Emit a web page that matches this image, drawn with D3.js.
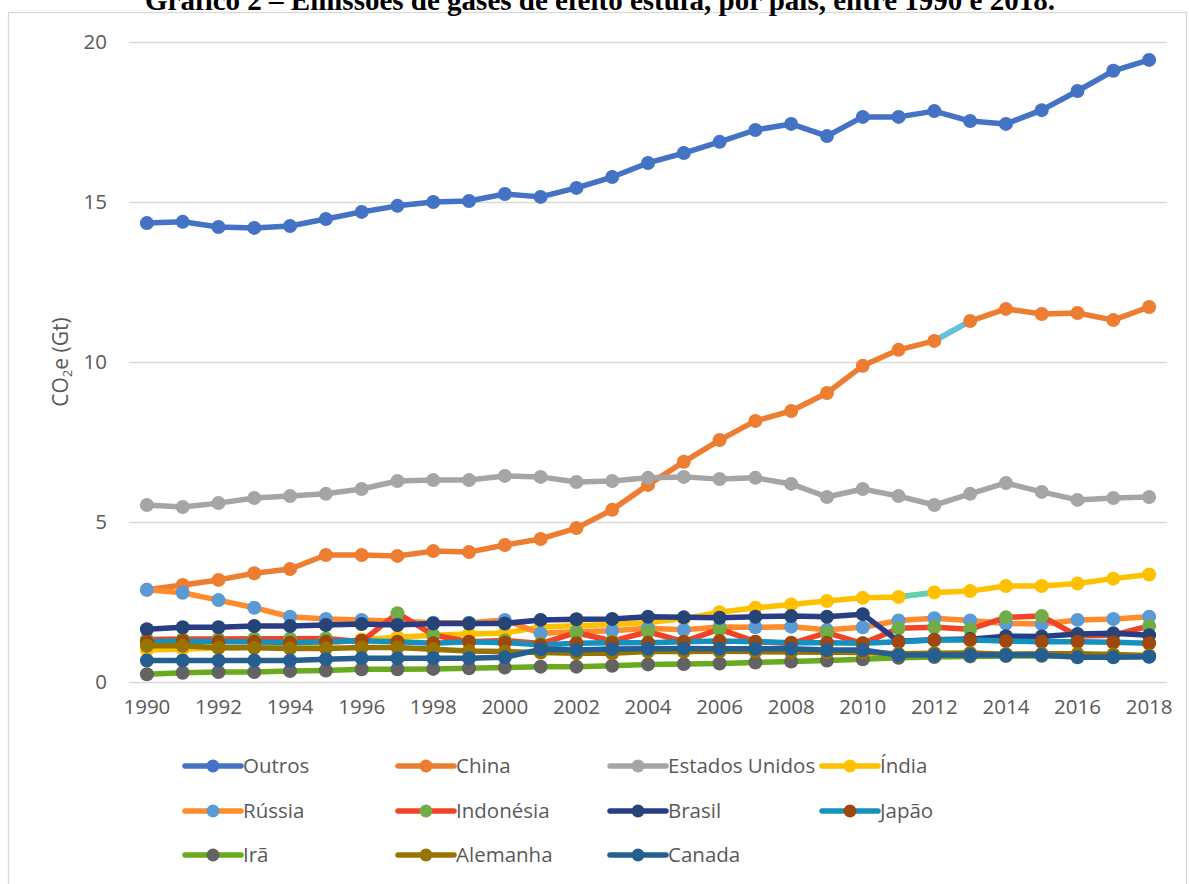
<!DOCTYPE html>
<html lang="pt">
<head>
<meta charset="utf-8">
<title>Emissões de gases de efeito estufa, por país, 1990–2018</title>
<script src="https://cdn.jsdelivr.net/npm/d3@7/dist/d3.min.js"></script>
<style>
  html, body { margin: 0; padding: 0; background: #ffffff; }
  svg { display: block; }
  text { font-family: "Open Sans", "Noto Sans", sans-serif; fill: #595959; }
</style>
</head>
<body>
<svg id="chart" width="1189" height="884"></svg>
<script>
// Anos (categorias do eixo X)
const years = [1990, 1991, 1992, 1993, 1994, 1995, 1996, 1997, 1998, 1999,
               2000, 2001, 2002, 2003, 2004, 2005, 2006, 2007, 2008, 2009,
               2010, 2011, 2012, 2013, 2014, 2015, 2016, 2017, 2018];
const xTickLabels = [1990, 1992, 1994, 1996, 1998, 2000, 2002, 2004, 2006, 2008, 2010, 2012, 2014, 2016, 2018];
const yTickLabels = [0, 5, 10, 15, 20];

// Emissões em Gt CO2e
const outros = [14.34, 14.38, 14.22, 14.19, 14.25, 14.47, 14.69, 14.88, 15.00, 15.03,
                15.25, 15.16, 15.44, 15.78, 16.22, 16.53, 16.88, 17.25, 17.44, 17.06,
                17.66, 17.66, 17.84, 17.53, 17.44, 17.87, 18.47, 19.10, 19.44];
const china = [2.88, 3.03, 3.19, 3.40, 3.53, 3.97, 3.97, 3.94, 4.09, 4.06,
               4.28, 4.47, 4.81, 5.38, 6.16, 6.88, 7.56, 8.16, 8.47, 9.03,
               9.88, 10.38, 10.66, 11.28, 11.66, 11.50, 11.53, 11.31, 11.72];
const estadosUnidos = [5.53, 5.47, 5.59, 5.75, 5.81, 5.88, 6.03, 6.28, 6.31, 6.31,
                       6.44, 6.41, 6.25, 6.28, 6.38, 6.41, 6.34, 6.38, 6.19, 5.78,
                       6.03, 5.81, 5.53, 5.88, 6.22, 5.94, 5.69, 5.75, 5.78];
const india = [1.00, 1.03, 1.06, 1.09, 1.14, 1.20, 1.33, 1.40, 1.46, 1.50,
               1.53, 1.72, 1.76, 1.80, 1.86, 1.98, 2.18, 2.32, 2.42, 2.53,
               2.63, 2.66, 2.80, 2.84, 3.00, 3.00, 3.08, 3.23, 3.36];
const russia = [2.88, 2.79, 2.56, 2.32, 2.04, 1.97, 1.94, 1.90, 1.85, 1.85,
                1.94, 1.52, 1.57, 1.60, 1.68, 1.63, 1.72, 1.71, 1.73, 1.63,
                1.71, 1.92, 1.99, 1.92, 1.83, 1.81, 1.94, 1.97, 2.04];
const indonesia = [1.33, 1.34, 1.34, 1.35, 1.35, 1.36, 1.26, 2.15, 1.47, 1.26,
                   1.30, 1.20, 1.54, 1.28, 1.57, 1.26, 1.65, 1.26, 1.20, 1.54,
                   1.20, 1.68, 1.71, 1.65, 2.02, 2.06, 1.44, 1.46, 1.75];
const brasil = [1.65, 1.71, 1.71, 1.75, 1.75, 1.78, 1.81, 1.78, 1.83, 1.83,
                1.83, 1.94, 1.96, 1.97, 2.04, 2.02, 2.01, 2.04, 2.06, 2.04,
                2.12, 1.27, 1.32, 1.34, 1.43, 1.42, 1.50, 1.52, 1.46];
const japao = [1.26, 1.28, 1.26, 1.26, 1.23, 1.26, 1.29, 1.26, 1.21, 1.26,
               1.23, 1.16, 1.21, 1.23, 1.23, 1.26, 1.28, 1.26, 1.23, 1.23,
               1.21, 1.26, 1.31, 1.31, 1.28, 1.26, 1.26, 1.24, 1.21];
const ira = [0.24, 0.29, 0.31, 0.31, 0.34, 0.36, 0.40, 0.40, 0.41, 0.43,
             0.45, 0.48, 0.48, 0.51, 0.55, 0.56, 0.58, 0.61, 0.64, 0.67,
             0.71, 0.76, 0.78, 0.80, 0.81, 0.82, 0.80, 0.80, 0.80];
const alemanha = [1.13, 1.13, 1.07, 1.07, 1.05, 1.05, 1.08, 1.08, 1.02, 0.97,
                  0.95, 0.92, 0.90, 0.90, 0.95, 0.95, 0.96, 0.95, 0.94, 0.93,
                  0.92, 0.88, 0.90, 0.91, 0.87, 0.88, 0.88, 0.86, 0.83];
const canada = [0.67, 0.67, 0.67, 0.67, 0.67, 0.71, 0.74, 0.74, 0.74, 0.74,
                0.77, 1.02, 1.00, 1.03, 1.04, 1.05, 1.04, 1.04, 1.04, 1.00,
                1.00, 0.84, 0.84, 0.84, 0.84, 0.84, 0.77, 0.77, 0.79];

const seriesNames = ["Outros", "China", "Estados Unidos", "Índia", "Rússia", "Indonésia",
                     "Brasil", "Japão", "Irã", "Alemanha", "Canada"];
const seriesValues = [outros, china, estadosUnidos, india, russia, indonesia,
                      brasil, japao, ira, alemanha, canada];

// Estilo de cada série: cor da linha e cor do marcador
const styles = {
  "Outros":         { line: "#4472C4", marker: "#4472C4" },
  "China":          { line: "#ED7D31", marker: "#ED7D31" },
  "Estados Unidos": { line: "#A5A5A5", marker: "#A5A5A5" },
  "Índia":          { line: "#FFC000", marker: "#FFC000" },
  "Rússia":         { line: "#FF8B2B", marker: "#5B9BD5" },
  "Indonésia":      { line: "#F14427", marker: "#70AD47" },
  "Brasil":         { line: "#283D85", marker: "#264478" },
  "Japão":          { line: "#1591C0", marker: "#9E480E" },
  "Irã":            { line: "#6AAA1E", marker: "#636363" },
  "Alemanha":       { line: "#997300", marker: "#997300" },
  "Canada":         { line: "#255E91", marker: "#255E91" }
};
// Trechos com formatação própria (segmento que começa no ano indicado)
const segmentOverrides = [
  { series: "China", fromYear: 2012, color: "#5EC3E4" },
  { series: "Índia", fromYear: 2011, color: "#5ED1B4" }
];

const svg = d3.select("#chart");

// Moldura da área do gráfico
svg.append("rect")
  .attr("x", 8.5).attr("y", 12.5)
  .attr("width", 1178).attr("height", 900)
  .attr("fill", "#ffffff").attr("stroke", "#D9D9D9").attr("stroke-width", 1.3);

// Título
svg.append("text")
  .attr("x", 600).attr("y", 10)
  .attr("text-anchor", "middle")
  .style("font-family", "'Liberation Serif', 'Times New Roman', serif")
  .style("font-weight", "bold")
  .style("font-size", "29px")
  .style("fill", "#000000")
  .text("Gráfico 2 – Emissões de gases de efeito estufa, por país, entre 1990 e 2018.");

// Escalas
const x = d3.scaleBand().domain(years).range([129, 1167]).padding(0);
const cx = yr => x(yr) + x.bandwidth() / 2;
const y = d3.scaleLinear().domain([0, 20]).range([682, 42]);

// Grade horizontal e rótulos do eixo Y
const yAxis = d3.axisLeft(y)
  .tickValues(yTickLabels)
  .tickSize(-(1167 - 129))
  .tickPadding(22)
  .tickFormat(d3.format("d"));
const gy = svg.append("g").attr("transform", "translate(129,0)").call(yAxis);
gy.select(".domain").remove();
gy.selectAll(".tick line").attr("stroke", "#D9D9D9").attr("stroke-width", 1.3);
gy.selectAll(".tick text")
  .style("font-size", "20.5px").attr("fill", "#595959")
  .attr("dy", "0.34em");

// Rótulos do eixo X
const xAxis = d3.axisBottom(x)
  .tickValues(xTickLabels)
  .tickSize(0)
  .tickPadding(17)
  .tickFormat(d3.format("d"));
const gx = svg.append("g").attr("transform", "translate(0,682)").call(xAxis);
gx.select(".domain").remove();
gx.selectAll(".tick text").style("font-size", "20.5px").attr("fill", "#595959");

// Título do eixo Y
const yTitle = svg.append("text")
  .attr("transform", "translate(68,362) rotate(-90)")
  .attr("text-anchor", "middle")
  .style("font-size", "21px");
yTitle.append("tspan").text("CO");
yTitle.append("tspan").text("2").style("font-size", "13px").attr("dy", 4);
yTitle.append("tspan").text("e (Gt)").attr("dy", -4);

// Séries
const plot = svg.append("g");
seriesNames.forEach((name, i) => {
  const vals = seriesValues[i];
  const st = styles[name];
  const g = plot.append("g").attr("class", "series");
  const segs = years.slice(0, -1).map((yr, j) => {
    const ov = segmentOverrides.find(o => o.series === name && o.fromYear === yr);
    return { x1: cx(yr), y1: y(vals[j]), x2: cx(years[j + 1]), y2: y(vals[j + 1]),
             color: ov ? ov.color : st.line };
  });
  // Linha contínua na cor da série
  const line = d3.line().x((d, j) => cx(years[j])).y(d => y(d));
  g.append("path").datum(vals)
    .attr("d", line)
    .attr("fill", "none")
    .attr("stroke", st.line)
    .attr("stroke-width", 5.5)
    .attr("stroke-linejoin", "round")
    .attr("stroke-linecap", "round");
  // Trechos com cor própria
  g.selectAll("line.ov").data(segs.filter(s => s.color !== st.line))
    .join("line").attr("class", "ov")
    .attr("x1", d => d.x1).attr("y1", d => d.y1)
    .attr("x2", d => d.x2).attr("y2", d => d.y2)
    .attr("stroke", d => d.color).attr("stroke-width", 5.5);
  g.selectAll("circle").data(vals).join("circle")
    .attr("cx", (d, j) => cx(years[j]))
    .attr("cy", d => y(d))
    .attr("r", 7)
    .attr("fill", st.marker);
});

// Legenda
const legendCols = [185, 398, 610, 822];
const legendRows = [766, 811, 855];
const legend = svg.append("g");
seriesNames.forEach((name, i) => {
  const col = i % 4, row = Math.floor(i / 4);
  const lx = legendCols[col], ly = legendRows[row];
  const st = styles[name];
  const item = legend.append("g").attr("transform", `translate(${lx},${ly})`);
  item.append("line")
    .attr("x1", 0).attr("x2", 56).attr("y1", 0).attr("y2", 0)
    .attr("stroke", st.line).attr("stroke-width", 5.5).attr("stroke-linecap", "round");
  item.append("circle").attr("cx", 28).attr("cy", 0).attr("r", 6.5).attr("fill", st.marker);
  item.append("text")
    .attr("x", 58).attr("y", 0).attr("dy", "0.35em")
    .style("font-size", "20.5px")
    .text(name);
});
</script>
</body>
</html>
